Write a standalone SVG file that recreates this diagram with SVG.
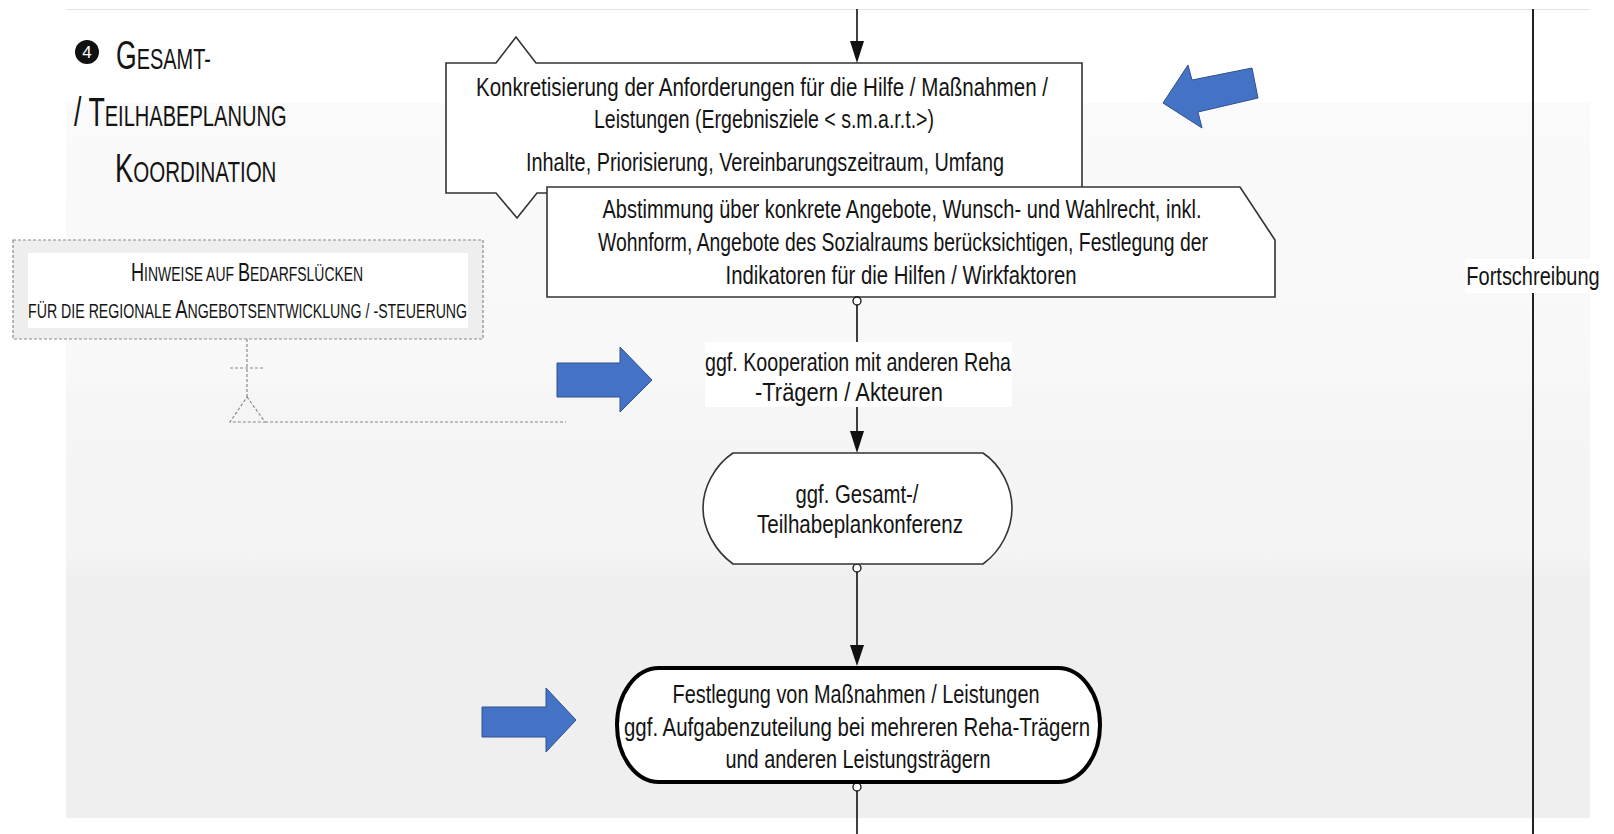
<svg xmlns="http://www.w3.org/2000/svg" width="1614" height="834" viewBox="0 0 1614 834">
  <defs>
    <linearGradient id="bandFill" x1="0" y1="0" x2="0" y2="1">
      <stop offset="0" stop-color="#fafafa"/>
      <stop offset="0.38" stop-color="#f8f8f8"/>
      <stop offset="0.42" stop-color="#f5f5f5"/>
      <stop offset="0.63" stop-color="#f4f4f4"/>
      <stop offset="0.67" stop-color="#efefef"/>
      <stop offset="1" stop-color="#efefef"/>
    </linearGradient>
    <style>
      .t{font-family:"Liberation Sans",Arial,sans-serif;fill:#141414}
      .n{font-size:26px;text-anchor:middle}
      .box{fill:#fff;stroke:#333;stroke-width:1.6}
      .wire{stroke:#111;stroke-width:1.6;fill:none}
      .head{fill:#111}
      .port{fill:#fff;stroke:#111;stroke-width:1.3}
      .dash{stroke:#8a8a8a;stroke-width:1.2;stroke-dasharray:3 2;fill:none}
      .hint{fill:#4472c4;stroke:#2f528f;stroke-width:1}
    </style>
  </defs>

  <!-- page background and lane band -->
  <rect x="0" y="0" width="1614" height="834" fill="#fff"/>
  <rect x="66" y="103" width="1524" height="715" fill="url(#bandFill)"/>
  <line x1="66" y1="9.5" x2="1590" y2="9.5" stroke="#e4e4e4" stroke-width="1"/>

  <!-- lane divider with label -->
  <line x1="1533" y1="9" x2="1533" y2="834" stroke="#222" stroke-width="2"/>
  <g id="lane-label">
    <rect x="1465" y="259" width="137" height="34" fill="#fff"/>
    <text class="t" transform="translate(1533,285) scale(0.8,1)" font-size="25" text-anchor="middle">Fortschreibung</text>
  </g>

  <!-- lane title (small caps) -->
  <g id="title">
    <circle cx="87" cy="52" r="12" fill="#111"/>
    <text class="t" x="87" y="58" font-size="17" text-anchor="middle" style="fill:#fff">4</text>
    <text class="t" transform="translate(116,69) scale(0.665,1)"><tspan font-size="40">G</tspan><tspan font-size="30">ESAMT-</tspan></text>
    <text class="t" transform="translate(74,126) scale(0.669,1)"><tspan font-size="40">/ T</tspan><tspan font-size="30">EILHABEPLANUNG</tspan></text>
    <text class="t" transform="translate(115,182) scale(0.684,1)"><tspan font-size="40">K</tspan><tspan font-size="30">OORDINATION</tspan></text>
  </g>

  <!-- note on supply gaps -->
  <g id="note-gaps">
    <rect x="13" y="240" width="470" height="99" fill="#eeeeee" stroke="#8a8a8a" stroke-width="1.2" stroke-dasharray="3 2"/>
    <rect x="28" y="253" width="440" height="75" fill="#fff"/>
    <text class="t" transform="translate(131,281) scale(0.698,1)"><tspan font-size="26">H</tspan><tspan font-size="20">INWEISE AUF </tspan><tspan font-size="26">B</tspan><tspan font-size="20">EDARFSLÜCKEN</tspan></text>
    <text class="t" transform="translate(28,318) scale(0.709,1)"><tspan font-size="20">FÜR DIE REGIONALE </tspan><tspan font-size="26">A</tspan><tspan font-size="20">NGEBOTSENTWICKLUNG / -STEUERUNG</tspan></text>
  </g>

  <!-- requirements node -->
  <g id="node-requirements">
    <path class="box" d="M446,63 L496,63 L516,37 L536,63 L1082,63 L1082,193 L537,193 L517,218 L496,193 L446,193 Z"/>
    <text class="t n" x="762" y="96" textLength="572" lengthAdjust="spacingAndGlyphs">Konkretisierung der Anforderungen für die Hilfe / Maßnahmen /</text>
    <text class="t n" x="764" y="128" textLength="340" lengthAdjust="spacingAndGlyphs">Leistungen (Ergebnisziele &lt; s.m.a.r.t.&gt;)</text>
    <text class="t n" x="765" y="171" textLength="478" lengthAdjust="spacingAndGlyphs">Inhalte, Priorisierung, Vereinbarungszeitraum, Umfang</text>
  </g>

  <!-- agreement node -->
  <g id="node-agreement">
    <path class="box" d="M547,187 L1240,187 L1275,240 L1275,297 L547,297 Z"/>
    <text class="t n" x="902" y="218" textLength="599" lengthAdjust="spacingAndGlyphs">Abstimmung über konkrete Angebote, Wunsch- und Wahlrecht, inkl.</text>
    <text class="t n" x="903" y="251" textLength="610" lengthAdjust="spacingAndGlyphs">Wohnform, Angebote des Sozialraums berücksichtigen, Festlegung der</text>
    <text class="t n" x="901" y="284" textLength="351" lengthAdjust="spacingAndGlyphs">Indikatoren für die Hilfen / Wirkfaktoren</text>
  </g>

  <!-- connectors -->
  <g id="connectors">
    <line class="wire" x1="857" y1="9" x2="857" y2="44"/>
    <path class="head" d="M850,41 L864,41 L857,63 Z"/>
    <circle class="port" cx="857" cy="301" r="4"/>
    <line class="wire" x1="857" y1="305" x2="857" y2="343"/>
    <line class="wire" x1="857" y1="406" x2="857" y2="434"/>
    <path class="head" d="M850,431 L864,431 L857,453 Z"/>
    <circle class="port" cx="857" cy="568" r="4"/>
    <line class="wire" x1="857" y1="572" x2="857" y2="648"/>
    <path class="head" d="M850,645 L864,645 L857,666 Z"/>
    <circle class="port" cx="857" cy="787" r="4"/>
    <line class="wire" x1="857" y1="791" x2="857" y2="834"/>
    <!-- dashed link from the note -->
    <line class="dash" x1="247" y1="339" x2="247" y2="397"/>
    <line class="dash" x1="230" y1="368" x2="265" y2="368"/>
    <path class="dash" d="M247,397 L265,422 L230,422 Z"/>
    <line class="dash" x1="265" y1="422" x2="566" y2="422"/>
  </g>

  <!-- cooperation label -->
  <g id="node-cooperation">
    <rect x="705" y="342" width="307" height="65" fill="#fff"/>
    <text class="t n" x="858" y="371" textLength="306" lengthAdjust="spacingAndGlyphs">ggf. Kooperation mit anderen Reha</text>
    <text class="t n" x="849" y="401" textLength="188" lengthAdjust="spacingAndGlyphs">-Trägern / Akteuren</text>
  </g>

  <!-- conference node -->
  <g id="node-conference">
    <path class="box" d="M733,453 L983,453 C1001,465 1012,487 1012,508 C1012,529 1001,551 983,564 L733,564 C715,551 703,529 703,508 C703,487 715,465 733,453 Z"/>
    <text class="t n" x="857" y="503" textLength="123" lengthAdjust="spacingAndGlyphs">ggf. Gesamt-/</text>
    <text class="t n" x="860" y="533" textLength="206" lengthAdjust="spacingAndGlyphs">Teilhabeplankonferenz</text>
  </g>

  <!-- decision node -->
  <g id="node-decision">
    <rect x="617" y="668" width="483" height="114" rx="42" ry="57" fill="#fff" stroke="#000" stroke-width="4"/>
    <text class="t n" x="856" y="703" textLength="367" lengthAdjust="spacingAndGlyphs">Festlegung von Maßnahmen / Leistungen</text>
    <text class="t n" x="857" y="736" textLength="466" lengthAdjust="spacingAndGlyphs">ggf. Aufgabenzuteilung bei mehreren Reha-Trägern</text>
    <text class="t n" x="858" y="768" textLength="265" lengthAdjust="spacingAndGlyphs">und anderen Leistungsträgern</text>
  </g>

  <!-- highlight arrows -->
  <g id="highlights">
    <polygon class="hint" points="1163,103 1188,65 1192,80 1252,68 1258,98 1198,112 1202,128"/>
    <polygon class="hint" points="557,363 620,363 620,347 652,380 620,412 620,397 557,397"/>
    <polygon class="hint" points="482,707 546,707 546,688 576,720 546,752 546,737 482,737"/>
  </g>
</svg>
